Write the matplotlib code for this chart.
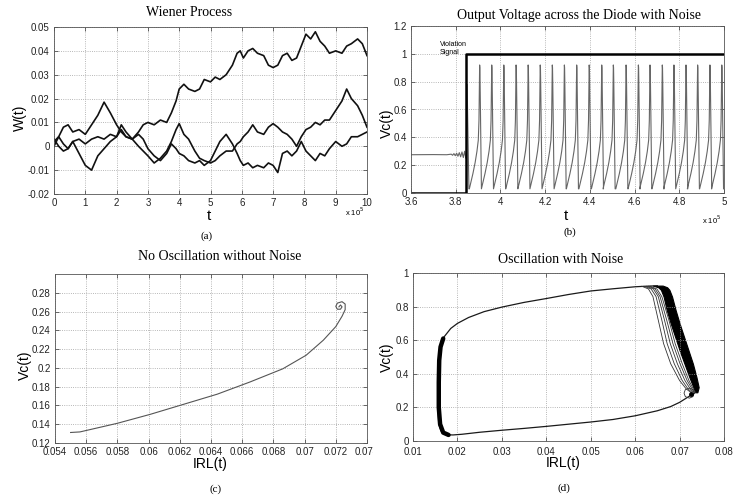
import matplotlib
matplotlib.use("Agg")
import matplotlib.pyplot as plt
from matplotlib.ticker import FuncFormatter
from matplotlib.transforms import Bbox

W, H = 751, 498

# ---- (a) Wiener process: three sample paths (t in 1e5) ----
w_t = [0, 0.15, 0.3, 0.45, 0.6, 0.8, 1.0, 1.2, 1.4, 1.6,
       1.8, 2.0, 2.15, 2.3, 2.5, 2.7, 2.85, 3.0, 3.2, 3.4,
       3.6, 3.75, 3.9, 4.0, 4.15, 4.3, 4.5, 4.65, 4.8, 5.0,
       5.15, 5.3, 5.5, 5.7, 5.85, 5.95, 6.05, 6.2, 6.35, 6.5,
       6.7, 6.85, 7.0, 7.15, 7.3, 7.45, 7.6, 7.75, 7.9, 8.05,
       8.2, 8.35, 8.5, 8.65, 8.8, 9.0, 9.2, 9.35, 9.5, 9.7,
       9.85, 10.0]
w_path1 = [0.002, 0.004, 0.001, -0.001, 0.002, 0.003, 0.001, 0.003, 0.004, 0.003,
           0.005, 0.004, 0.007, 0.004, 0.003, 0.006, 0.009, 0.010, 0.009, 0.011,
           0.010, 0.014, 0.019, 0.024, 0.026, 0.024, 0.023, 0.024, 0.028, 0.027,
           0.029, 0.028, 0.030, 0.034, 0.039, 0.040, 0.037, 0.040, 0.041, 0.039,
           0.038, 0.034, 0.033, 0.034, 0.038, 0.039, 0.036, 0.037, 0.042, 0.047,
           0.045, 0.048, 0.044, 0.042, 0.039, 0.040, 0.039, 0.042, 0.043, 0.045,
           0.043, 0.038]
w_path2 = [0.000, 0.004, 0.008, 0.009, 0.006, 0.007, 0.005, 0.009, 0.013, 0.0185,
           0.014, 0.009, 0.006, 0.004, 0.003, 0.000, -0.002, -0.004, -0.007, -0.005,
           -0.002, 0.002, 0.007, 0.0095, 0.005, 0.003, -0.002, -0.005, -0.006, -0.007,
           -0.006, -0.004, -0.002, -0.002, 0.001, 0.002, 0.004, 0.006, 0.009, 0.006,
           0.005, 0.008, 0.0095, 0.008, 0.006, 0.005, 0.003, 0.000, 0.004, 0.007,
           0.008, 0.010, 0.009, 0.011, 0.011, 0.015, 0.019, 0.024, 0.020, 0.017,
           0.013, 0.008]
w_path3 = [0.003, 0.000, -0.002, -0.001, 0.002, -0.003, -0.008, -0.010, -0.004, -0.001,
           0.002, 0.004, 0.009, 0.006, 0.003, 0.005, 0.003, -0.001, -0.004, -0.006,
           -0.003, 0.001, -0.001, -0.003, -0.004, -0.006, -0.007, -0.006, -0.008, -0.006,
           -0.002, 0.002, 0.005, 0.001, -0.003, -0.006, -0.008, -0.007, -0.009, -0.008,
           -0.009, -0.007, -0.008, -0.011, -0.003, -0.002, -0.004, -0.002, 0.002, -0.002,
           -0.004, -0.006, -0.003, -0.004, -0.001, 0.002, 0.000, 0.001, 0.004, 0.004,
           0.005, 0.006]

# ---- (b) output voltage with noise (t in 1e5) ----
step_t = [3.6, 3.848, 3.848, 5.0]
step_v = [0, 0, 1, 1]
pre_t = [3.60, 3.70, 3.76, 3.780, 3.786, 3.792, 3.798, 3.804, 3.810, 3.816,
         3.822, 3.828, 3.834, 3.840, 3.845, 3.848, 3.851, 3.855, 3.859]
pre_v = [0.275, 0.276, 0.275, 0.279, 0.271, 0.283, 0.268, 0.286, 0.264, 0.290,
         0.260, 0.295, 0.255, 0.300, 0.250, 0.26, 0.78, 0.40, 0.03]
spike_peaks = [3.907, 3.961, 4.015, 4.070, 4.124, 4.178, 4.232, 4.286, 4.341, 4.397,
               4.453, 4.505, 4.562, 4.617, 4.669, 4.724, 4.776, 4.830, 4.882, 4.937,
               4.990]
spike_dt = [-0.046, -0.040, -0.030, -0.020, -0.012, -0.006, -0.003, -0.0015, 0.0,
            0.001, 0.002, 0.004, 0.006, 0.008]
spike_v = [0.03, 0.07, 0.14, 0.22, 0.30, 0.38, 0.52, 0.72, 0.92,
           0.90, 0.80, 0.55, 0.25, 0.03]

# ---- (c) phase trajectory without noise ----
c_irl = [0.0550, 0.0556, 0.0580, 0.0601, 0.0622, 0.0644, 0.0665, 0.0686, 0.0701,
         0.0712, 0.0720, 0.0724, 0.0726, 0.0726, 0.0724, 0.0721, 0.0720, 0.0721,
         0.0723, 0.0724, 0.0723, 0.0722]
c_vc = [0.1312, 0.1318, 0.1410, 0.1505, 0.1610, 0.1720, 0.1850, 0.1990, 0.2135,
        0.2295, 0.2440, 0.2550, 0.2620, 0.2680, 0.2705, 0.2690, 0.2655, 0.2625,
        0.2625, 0.2650, 0.2670, 0.2650]

# ---- (d) phase trajectory with noise ----
loop_irl = [0.0736, 0.0715, 0.0700, 0.0680, 0.0650, 0.0600, 0.0550, 0.0500, 0.0450,
            0.0400, 0.0350, 0.0300, 0.0250, 0.0210, 0.0190, 0.0178, 0.0170, 0.0163,
            0.0158, 0.0156, 0.0156, 0.0158, 0.0162, 0.0170, 0.0185, 0.0200, 0.0225,
            0.0260, 0.0300, 0.0350, 0.0400, 0.0450, 0.0500, 0.0550, 0.0600, 0.0630,
            0.0650]
loop_vc = [0.290, 0.255, 0.230, 0.205, 0.180, 0.150, 0.128, 0.113, 0.100,
           0.087, 0.075, 0.064, 0.052, 0.040, 0.036, 0.037, 0.042, 0.060,
           0.100, 0.200, 0.350, 0.480, 0.560, 0.620, 0.670, 0.700, 0.735,
           0.770, 0.797, 0.825, 0.848, 0.872, 0.893, 0.906, 0.918, 0.922,
           0.924]
left_band_irl = [0.0180, 0.0168, 0.0161, 0.0158, 0.0158, 0.0159, 0.0162, 0.0168]
left_band_vc = [0.036, 0.050, 0.100, 0.200, 0.350, 0.480, 0.560, 0.610]
band_vc = [0.925, 0.915, 0.90, 0.86, 0.78, 0.70, 0.62, 0.54, 0.46, 0.38, 0.32, 0.29]
band_left = [0.0640, 0.0652, 0.0658, 0.0664, 0.0671, 0.0680, 0.0690, 0.0700, 0.0711,
             0.0722, 0.0731, 0.0735]
band_right = [0.0662, 0.0672, 0.0677, 0.0683, 0.0691, 0.0700, 0.0710, 0.0720, 0.0730,
              0.0738, 0.0743, 0.0740]
fan_vc = [0.921, 0.905, 0.86, 0.72, 0.58, 0.46, 0.36, 0.31, 0.29]
fan_irl = [
    [0.0615, 0.0630, 0.0640, 0.0652, 0.0664, 0.0680, 0.0700, 0.0715, 0.0725],
    [0.0620, 0.0636, 0.0647, 0.0660, 0.0672, 0.0688, 0.0706, 0.0719, 0.0728],
    [0.0625, 0.0641, 0.0652, 0.0666, 0.0679, 0.0695, 0.0712, 0.0724, 0.0731],
    [0.0630, 0.0645, 0.0656, 0.0671, 0.0685, 0.0701, 0.0717, 0.0728, 0.0733],
    [0.0634, 0.0649, 0.0660, 0.0676, 0.0690, 0.0706, 0.0721, 0.0731, 0.0735],
]
circ_irl = [0.0733, 0.0730, 0.0722, 0.0713, 0.0710, 0.0713, 0.0722, 0.0730, 0.0733]
circ_vc = [0.285, 0.306, 0.315, 0.306, 0.285, 0.264, 0.255, 0.264, 0.285]
eq_point = (0.0725, 0.280)

plt.rcParams.update({
    "font.family": ["Liberation Sans", "DejaVu Sans"],
    "font.size": 7,
})

fig = plt.figure(figsize=(W / 100, H / 100), dpi=100)


def px_axes(left, top, right, bottom):
    return fig.add_axes([left / W, 1 - bottom / H, (right - left) / W, (bottom - top) / H])


def ftext(x, y, s, **kw):
    fig.text(x / W, 1 - y / H, s, ha="center", va="center", **kw)


fmt = FuncFormatter(lambda v, _: "%g" % round(v, 6))


def style(ax):
    ax.grid(True, linestyle=":", color="#a0a0a0", linewidth=0.6)
    ax.tick_params(direction="in", length=3, width=0.5, labelsize=7, pad=3,
                   top=True, right=True, colors="#333333", labelcolor="#222222")
    for sp in ax.spines.values():
        sp.set_color("#555555")
        sp.set_linewidth(0.6)
    ax.xaxis.set_major_formatter(fmt)
    ax.yaxis.set_major_formatter(fmt)


serif = ["Liberation Serif", "DejaVu Serif"]

# (a)
ax = px_axes(54, 27, 367, 194)
for path in (w_path1, w_path2, w_path3):
    ax.plot(w_t, path, color="#111111", linewidth=1.2)
ax.set_xlim(0, 10)
ax.set_ylim(-0.02, 0.05)
ax.set_xticks(range(0, 11))
ax.set_yticks([-0.02, -0.01, 0, 0.01, 0.02, 0.03, 0.04, 0.05])
style(ax)
ftext(189, 13, "Wiener Process", family=serif, fontsize=10)
ftext(209, 216, "t", fontsize=11)
ftext(20, 118, "W(t)", fontsize=10, rotation=90)
ftext(355, 212, "x 10$^5$", fontsize=5.5)
ftext(207, 236, "(a)", family=serif, fontsize=8)

# (b)
ax = px_axes(411, 26, 724, 193)
b_t = list(pre_t)
b_v = list(pre_v)
for p in spike_peaks:
    b_t += [p + d for d in spike_dt]
    b_v += spike_v
ax.plot(b_t, b_v, color="#666666", linewidth=0.8)
ax.plot(step_t, step_v, color="black", linewidth=1.8)
ax.text(3.73, 1.07, "Violation", fontsize=5, va="center")
ax.text(3.73, 1.01, "Signal", fontsize=5, va="center")
ax.set_xlim(3.6, 5)
ax.set_ylim(0, 1.2)
ax.set_xticks([3.6, 3.8, 4.0, 4.2, 4.4, 4.6, 4.8, 5.0])
ax.set_yticks([0, 0.2, 0.4, 0.6, 0.8, 1.0, 1.2])
style(ax)
ftext(579, 15, "Output Voltage across the Diode with Noise", family=serif, fontsize=10)
ftext(566, 216, "t", fontsize=11)
ftext(387, 123, "Vc(t)", fontsize=10, rotation=90)
ftext(712, 220, "x 10$^5$", fontsize=5.5)
ftext(570, 232, "(b)", family=serif, fontsize=8)

# (c)
ax = px_axes(55, 274, 367, 443)
ax.plot(c_irl, c_vc, color="#555555", linewidth=0.8)
ax.set_xlim(0.054, 0.074)
ax.set_ylim(0.12, 0.30)
ax.set_xticks([0.054, 0.056, 0.058, 0.060, 0.062, 0.064, 0.066, 0.068, 0.070, 0.072, 0.074])
ax.set_yticks([0.12, 0.14, 0.16, 0.18, 0.20, 0.22, 0.24, 0.26, 0.28])
style(ax)
clip = Bbox.from_extents(0, 0, 373, H)
for lab in ax.get_xticklabels():
    lab.set_clip_on(True)
    lab.set_clip_box(clip)
ftext(220, 257, "No Oscillation without Noise", family=serif, fontsize=10)
ftext(210, 464, "IRL(t)", fontsize=10)
ftext(25, 365, "Vc(t)", fontsize=10, rotation=90)
ftext(216, 489, "(c)", family=serif, fontsize=8)

# (d)
ax = px_axes(413, 273, 724, 441)
ax.plot(loop_irl, loop_vc, color="#1a1a1a", linewidth=0.9)
ax.plot(left_band_irl, left_band_vc, color="black", linewidth=3.2, solid_capstyle="round")
ax.fill_betweenx(band_vc, band_left, band_right, color="black", linewidth=0.8)
for row in fan_irl:
    ax.plot(row, fan_vc, color="#333333", linewidth=0.6)
ax.plot(circ_irl, circ_vc, color="#333333", linewidth=0.6)
ax.plot([eq_point[0]], [eq_point[1]], "o", color="black", markersize=2.5)
ax.set_xlim(0.01, 0.08)
ax.set_ylim(0, 1)
ax.set_xticks([0.01, 0.02, 0.03, 0.04, 0.05, 0.06, 0.07, 0.08])
ax.set_yticks([0, 0.2, 0.4, 0.6, 0.8, 1.0])
style(ax)
ax.tick_params(axis="x", pad=4)
ftext(561, 259, "Oscillation with Noise", family=serif, fontsize=10)
ftext(563, 463, "IRL(t)", fontsize=10)
ftext(387, 357, "Vc(t)", fontsize=10, rotation=90)
ftext(564, 488, "(d)", family=serif, fontsize=8)

fig.savefig("out.png", dpi=100, facecolor="white")
